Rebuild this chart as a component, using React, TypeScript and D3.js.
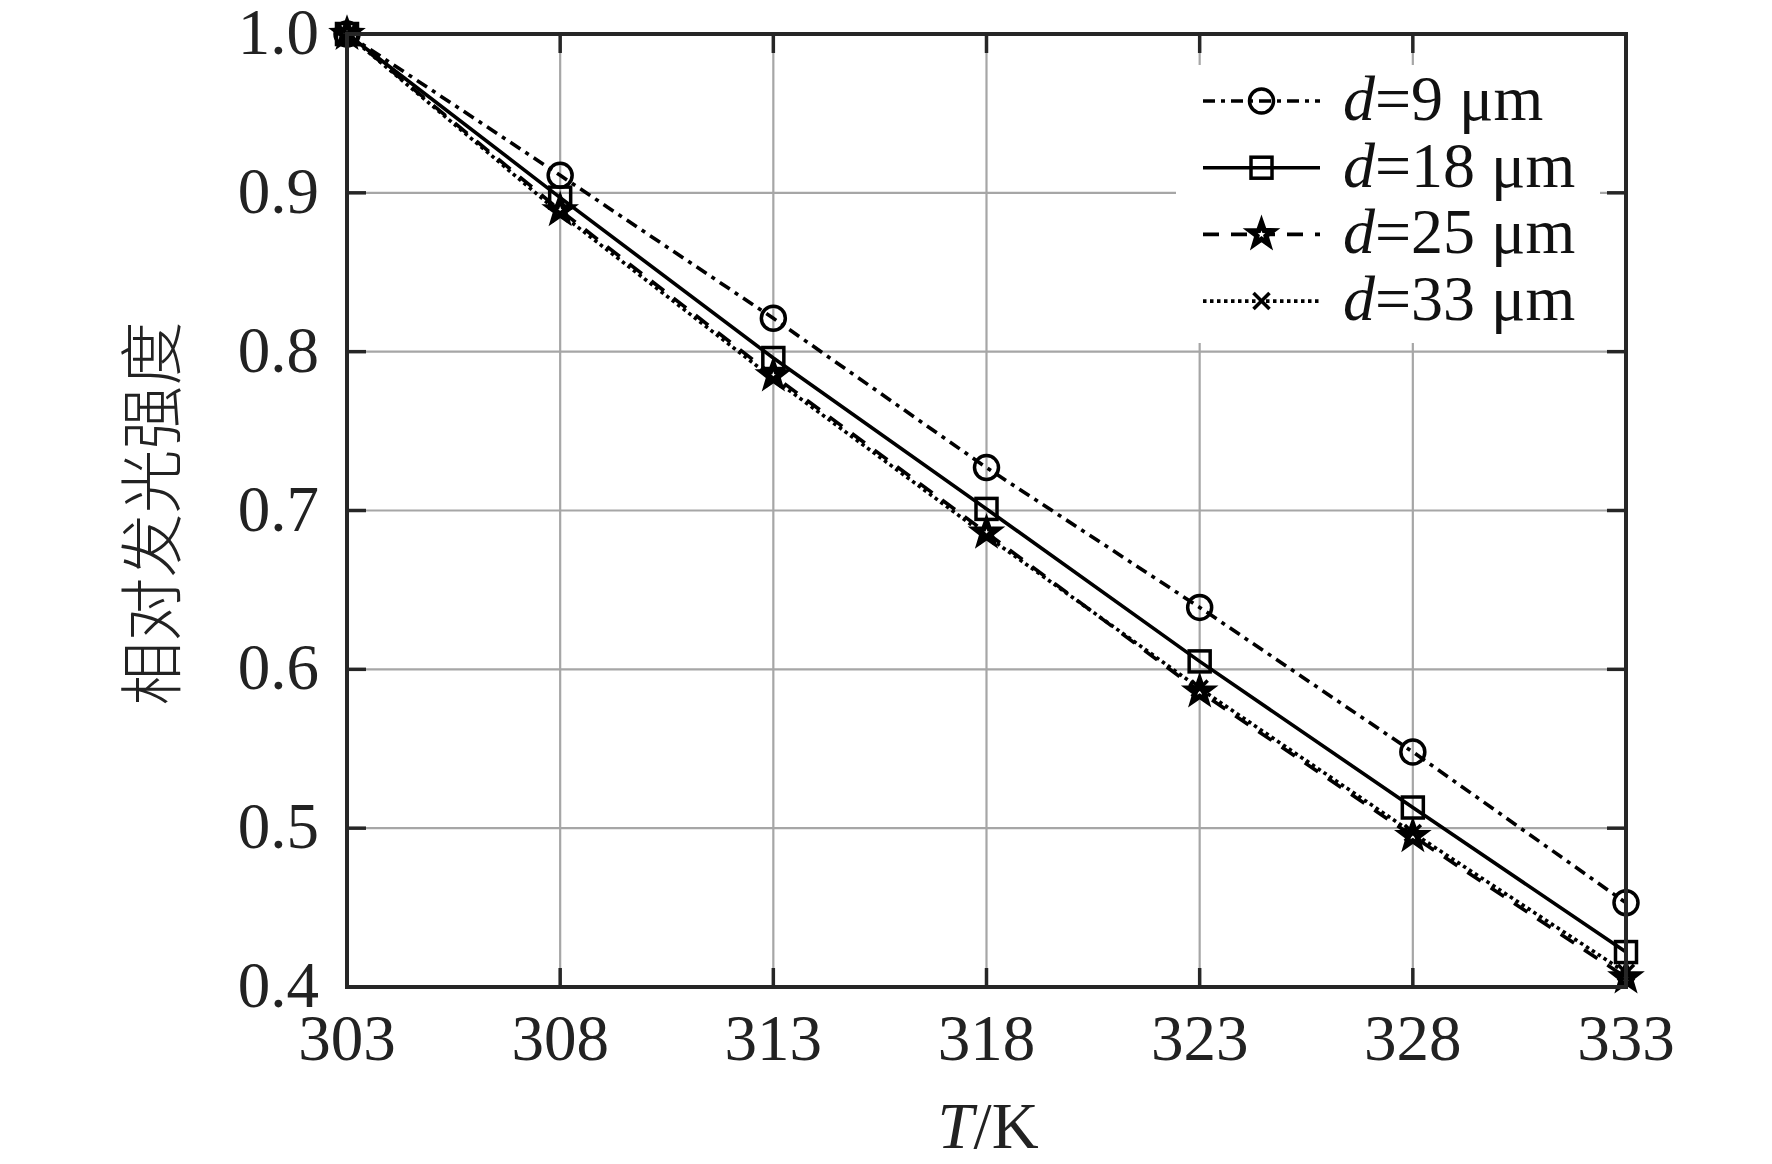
import React from 'react';
import * as d3 from 'd3';

// temperatures (K)
const temps = [303, 308, 313, 318, 323, 328, 333];

// relative luminous intensity for each thickness
const d9 = [1.0, 0.911, 0.821, 0.727, 0.639, 0.548, 0.453];
const d18 = [1.0, 0.897, 0.796, 0.701, 0.605, 0.513, 0.422];
const d25 = [1.0, 0.889, 0.785, 0.686, 0.586, 0.495, 0.406];
const d33 = [1.0, 0.887, 0.783, 0.684, 0.588, 0.497, 0.409];

const seriesNames = ['9', '18', '25', '33'];
const yTicks = [0.4, 0.5, 0.6, 0.7, 0.8, 0.9, 1.0];

const W = 1772;
const H = 1164;
const left = 347;
const right = 1626;
const top = 34;
const bottom = 987;

const serif = '"Liberation Serif", "Times New Roman", serif';
const axisColor = '#262626';
const gridColor = '#a6a6a6';

type Marker = 'circle' | 'square' | 'star' | 'cross';

const series: { name: string; values: number[]; dash: string; marker: Marker }[] = [
  { name: seriesNames[0], values: d9, dash: '12,6,4,6', marker: 'circle' },
  { name: seriesNames[1], values: d18, dash: 'none', marker: 'square' },
  { name: seriesNames[2], values: d25, dash: '16,12', marker: 'star' },
  { name: seriesNames[3], values: d33, dash: '3.5,3.5', marker: 'cross' },
];

function starPath(r: number) {
  const inner = r * 0.4;
  const pts: [number, number][] = [];
  for (let i = 0; i < 10; i++) {
    const a = -Math.PI / 2 + (i * Math.PI) / 5;
    const rr = i % 2 === 0 ? r : inner;
    pts.push([rr * Math.cos(a), rr * Math.sin(a)]);
  }
  return 'M' + pts.map((p) => p.join(',')).join('L') + 'Z';
}

const MarkerGlyph: React.FC<{ kind: Marker; x: number; y: number }> = ({ kind, x, y }) => {
  const sw = 3.5;
  if (kind === 'circle')
    return <circle cx={x} cy={y} r={12} fill="none" stroke="#000" strokeWidth={sw} />;
  if (kind === 'square')
    return <rect x={x - 10.5} y={y - 10.5} width={21} height={21} fill="none" stroke="#000" strokeWidth={sw} />;
  if (kind === 'star')
    return (
      <g transform={`translate(${x},${y})`}>
        <path d={starPath(16)} fill="#000" stroke="#000" strokeWidth={2.5} strokeLinejoin="miter" />
        <path d={starPath(4)} fill="#fff" />
      </g>
    );
  return (
    <g stroke="#000" strokeWidth={3.5}>
      <line x1={x - 8} y1={y - 8} x2={x + 8} y2={y + 8} />
      <line x1={x - 8} y1={y + 8} x2={x + 8} y2={y - 8} />
    </g>
  );
};

const App: React.FC = () => {
  const x = d3.scaleLinear().domain([303, 333]).range([left, right]);
  const y = d3.scaleLinear().domain([0.4, 1.0]).range([bottom, top]);
  const line = d3
    .line<number>()
    .x((_, i) => x(temps[i]))
    .y((v) => y(v));

  const tickLen = 19;
  const legX0 = 1203;
  const legX1 = 1320;
  const legRow0 = 101;
  const legStep = 66.7;

  return (
    <svg width={W} height={H} style={{ position: 'absolute', left: 0, top: 0, background: '#fff' }}>
      <rect x={0} y={0} width={W} height={H} fill="#fff" />

      {/* grid */}
      {temps.map((t) => (
        <line key={'gx' + t} x1={x(t)} x2={x(t)} y1={top} y2={bottom} stroke={gridColor} strokeWidth={2.2} />
      ))}
      {yTicks.map((v) => (
        <line key={'gy' + v} x1={left} x2={right} y1={y(v)} y2={y(v)} stroke={gridColor} strokeWidth={2.2} />
      ))}

      {/* ticks, pointing inward on all four sides */}
      <g stroke={axisColor} strokeWidth={3.5}>
        {temps.map((t) => (
          <g key={'tx' + t}>
            <line x1={x(t)} x2={x(t)} y1={bottom} y2={bottom - tickLen} />
            <line x1={x(t)} x2={x(t)} y1={top} y2={top + tickLen} />
          </g>
        ))}
        {yTicks.map((v) => (
          <g key={'ty' + v}>
            <line x1={left} x2={left + tickLen} y1={y(v)} y2={y(v)} />
            <line x1={right} x2={right - tickLen} y1={y(v)} y2={y(v)} />
          </g>
        ))}
      </g>

      {/* legend background hides the grid behind it */}
      <rect x={1176} y={65} width={424} height={278} fill="#fff" />

      {/* data */}
      {series.map((s) => (
        <path key={'l' + s.name} d={line(s.values) ?? ''} fill="none" stroke="#000" strokeWidth={3.6}
          strokeDasharray={s.dash} />
      ))}
      {series.map((s) =>
        s.values.map((v, i) => <MarkerGlyph key={s.name + '-' + i} kind={s.marker} x={x(temps[i])} y={y(v)} />)
      )}

      {/* frame */}
      <rect x={left} y={top} width={right - left} height={bottom - top} fill="none" stroke={axisColor}
        strokeWidth={4} />

      {/* tick labels */}
      <g fontFamily={serif} fontSize={65} fill="#222">
        {yTicks.map((v) => (
          <text key={'yl' + v} x={left - 28} y={y(v) + 20} textAnchor="end">
            {v.toFixed(1)}
          </text>
        ))}
        {temps.map((t) => (
          <text key={'xl' + t} x={x(t)} y={bottom + 73} textAnchor="middle">
            {t}
          </text>
        ))}
      </g>

      {/* axis titles */}
      <text x={988} y={1148} textAnchor="middle" fontFamily={serif} fontSize={65} fill="#222">
        <tspan fontStyle="italic">T</tspan>/K
      </text>
      <text
        transform={`translate(175, ${(top + bottom) / 2 + 3}) rotate(-90)`}
        textAnchor="middle"
        fontFamily='"Noto Sans CJK SC", sans-serif'
        fontWeight={300}
        fontSize={64}
        fill="#222"
      >
        相对发光强度
      </text>

      {/* legend */}
      {series.map((s, i) => {
        const ly = legRow0 + i * legStep;
        return (
          <g key={'leg' + s.name}>
            <line x1={legX0} x2={legX1} y1={ly} y2={ly} stroke="#000" strokeWidth={3.6} strokeDasharray={s.dash} />
            <MarkerGlyph kind={s.marker} x={(legX0 + legX1) / 2} y={ly} />
            <text x={1343} y={ly + 19} fontFamily={serif} fontSize={64} fill="#111">
              <tspan fontStyle="italic">d</tspan>={s.name} μm
            </text>
          </g>
        );
      })}
    </svg>
  );
};

export default App;
